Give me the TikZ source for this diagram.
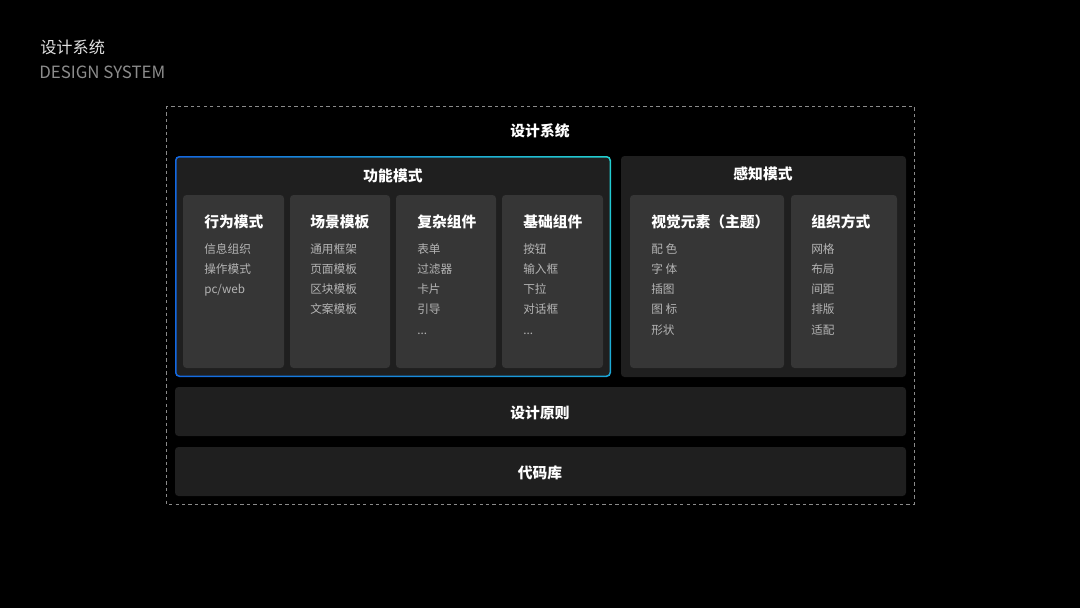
\documentclass[tikz,border=0pt]{standalone}
\usepackage{fontspec}
\setmainfont{Noto Sans CJK SC}
\usepackage{tikz}
\usetikzlibrary{positioning, shadings}
\usepackage{xcolor}
\definecolor{pagebg}{HTML}{000000}
\definecolor{panelbg}{HTML}{1F1F1F}
\definecolor{colbg}{HTML}{363636}
\definecolor{barbg}{HTML}{1F1F1F}
\definecolor{dashgray}{HTML}{8A8A8A}
\definecolor{itemgray}{HTML}{B4B4B4}
\definecolor{edgeblue}{HTML}{1468E0}
\definecolor{edgecyan}{HTML}{22D0D0}
\tikzset{
  panel/.style  ={fill=panelbg, rounded corners=2.5pt},
  colbox/.style ={fill=colbg, rounded corners=2.5pt},
  barbox/.style ={fill=barbg, rounded corners=2.5pt},
  outdash/.style={draw=dashgray, dashed, dash pattern=on 2.4pt off 2.2pt,
                  line width=0.6pt},
  hdr/.style    ={font=\fontsize{10.5}{12}\selectfont\bfseries, text=white,
                  inner sep=0pt},
  coltitle/.style={font=\fontsize{10.5}{12}\selectfont\bfseries, text=white,
                  anchor=west, inner sep=0pt},
  colitems/.style={font=\fontsize{8.3}{14.4}\selectfont, text=itemgray,
                  anchor=north west, align=left, inner sep=0pt},
}

\begin{document}
\begin{tikzpicture}[x=0.025cm, y=-0.025cm]
  \fill[pagebg] (0,0) rectangle (1080,608);
  \useasboundingbox (0,0) rectangle (1080,608);

  % page title
  \node[anchor=west, inner sep=0pt, text=white!88!black,
    font=\fontsize{11.5}{13}\selectfont] (ttl) at (40,47) {设计系统};
  \node[anchor=west, inner sep=0pt, text=white!55!black,
    font=\fontsize{12}{14}\selectfont] (ttlen) at (39,72) {DESIGN SYSTEM};

  % outer frame
  \draw[outdash] (166,106) rectangle (914,504);
  \node[hdr] (sys) at (540,131) {设计系统};

  % functional panel, gradient edge
  \shade[rounded corners=3pt, lower left=edgeblue, upper left=edgeblue,
    upper right=edgecyan, lower right=edgeblue!40!edgecyan]
    (175,156) rectangle (611,377);
  \fill[panel] (176.5,157.5) rectangle (609.5,375.5);
  \node[hdr] (func) at (393,176) {功能模式};

  \fill[colbox] (183,195) rectangle (284,368);
  \fill[colbox] (290,195) rectangle (390,368);
  \fill[colbox] (396,195) rectangle (496,368);
  \fill[colbox] (502,195) rectangle (603,368);

  \node[coltitle] (behav) at (204,222) {行为模式};
  \node[colitems] (behavit) at (204,243) {信息组织\\操作模式\\pc/web};
  \node[coltitle] (scene) at (310,222) {场景模板};
  \node[colitems] (sceneit) at (310,243) {通用框架\\页面模板\\区块模板\\文案模板};
  \node[coltitle] (cplx) at (417,222) {复杂组件};
  \node[colitems] (cplxit) at (417,243) {表单\\过滤器\\卡片\\引导\\...};
  \node[coltitle] (basic) at (523,222) {基础组件};
  \node[colitems] (basicit) at (523,243) {按钮\\输入框\\下拉\\对话框\\...};

  % perception panel
  \fill[panel] (621,156) rectangle (906,377);
  \node[hdr] (perc) at (763,174) {感知模式};

  \fill[colbox] (630,195) rectangle (784,368);
  \fill[colbox] (791,195) rectangle (897,368);

  \node[coltitle] (visual) at (651,222) {视觉元素（主题）};
  \node[colitems] (visualit) at (651,243) {配 色\\字 体\\插图\\图 标\\形状};
  \node[coltitle] (org) at (811,222) {组织方式};
  \node[colitems] (orgit) at (811,243) {网格\\布局\\间距\\排版\\适配};

  % bottom bars
  \fill[barbox] (175,387) rectangle (906,436);
  \node[hdr] (princ) at (540,413) {设计原则};
  \fill[barbox] (175,447) rectangle (906,496);
  \node[hdr] (codelib) at (540,473) {代码库};
\end{tikzpicture}
\end{document}
